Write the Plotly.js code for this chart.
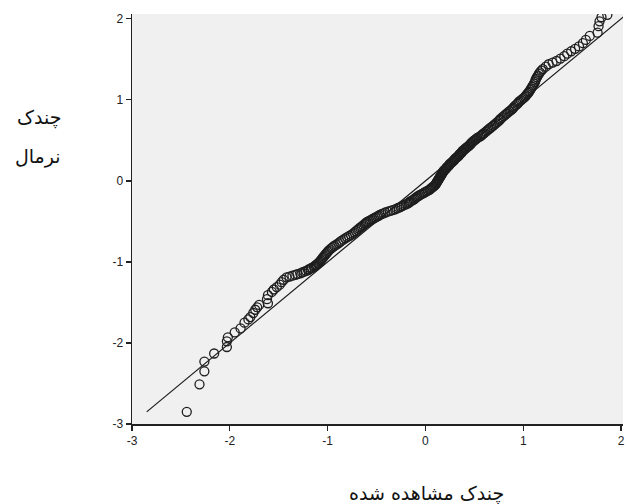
<!DOCTYPE html>
<html>
<head>
<meta charset="utf-8">
<script src="https://cdn.plot.ly/plotly-3.0.1.min.js"></script>
<style>html,body{margin:0;padding:0;background:#fff;}#chart{width:627px;height:504px;}</style>
</head>
<body>
<div id="chart"></div>
<script>
const observed = [
 -2.44,-2.31,-2.26,-2.26,-2.16,-2.03,-2.03,-2.02,-1.95,-1.89,-1.85,-1.81,-1.79,-1.76,-1.74,-1.72,-1.70,-1.61,-1.62,-1.61,
 -1.57,-1.55,-1.52,-1.49,-1.47,-1.45,-1.42,-1.36,-1.31,-1.26,-1.22,-1.19,-1.16,-1.13,-1.11,-1.09,-1.07,-1.05,-1.03,-1.01,
 -0.99,-0.96,-0.93,-0.89,-0.86,-0.82,-0.78,-0.74,-0.71,-0.68,-0.65,-0.62,-0.60,-0.57,-0.54,-0.51,-0.48,-0.45,-0.41,-0.36,
 -0.31,-0.27,-0.24,-0.20,-0.17,-0.15,-0.12,-0.10,-0.08,-0.05,-0.02,0.01,0.04,0.06,0.08,0.10,0.11,0.12,0.13,0.14,
 0.15,0.16,0.17,0.18,0.19,0.21,0.22,0.24,0.25,0.27,0.29,0.30,0.32,0.34,0.35,0.37,0.38,0.40,0.42,0.44,
 0.46,0.47,0.49,0.51,0.53,0.56,0.58,0.60,0.63,0.66,0.69,0.72,0.75,0.77,0.80,0.83,0.86,0.89,0.91,0.94,
 0.96,0.99,1.02,1.04,1.06,1.08,1.10,1.12,1.13,1.15,1.17,1.20,1.23,1.26,1.30,1.34,1.38,1.42,1.45,1.49,
 1.53,1.57,1.61,1.64,1.68,1.76,1.77,1.78,1.80,1.86
];
const expectedNormal = [
 -2.85,-2.51,-2.35,-2.23,-2.13,-2.05,-1.98,-1.93,-1.87,-1.82,-1.75,-1.71,-1.68,-1.63,-1.59,-1.56,-1.53,-1.51,-1.46,-1.41,
 -1.37,-1.34,-1.31,-1.28,-1.25,-1.22,-1.19,-1.17,-1.15,-1.13,-1.11,-1.09,-1.07,-1.05,-1.03,-1.01,-0.98,-0.95,-0.92,-0.89,
 -0.86,-0.83,-0.80,-0.77,-0.74,-0.71,-0.68,-0.65,-0.62,-0.59,-0.56,-0.53,-0.51,-0.49,-0.47,-0.45,-0.43,-0.41,-0.39,-0.37,
 -0.35,-0.33,-0.31,-0.29,-0.27,-0.25,-0.23,-0.21,-0.19,-0.17,-0.15,-0.13,-0.11,-0.09,-0.07,-0.05,-0.03,-0.01,0.01,0.03,
 0.05,0.07,0.09,0.11,0.13,0.15,0.17,0.19,0.21,0.23,0.25,0.27,0.29,0.31,0.33,0.35,0.37,0.39,0.41,0.43,
 0.45,0.47,0.49,0.51,0.53,0.55,0.57,0.59,0.62,0.65,0.68,0.71,0.74,0.77,0.80,0.83,0.86,0.89,0.92,0.95,
 0.98,1.01,1.04,1.07,1.10,1.14,1.18,1.22,1.26,1.30,1.34,1.38,1.41,1.44,1.46,1.48,1.51,1.54,1.57,1.60,
 1.63,1.66,1.70,1.74,1.79,1.83,1.91,1.97,2.02,2.05
];
// Additional observations in the dense central band
const observedCentral = [
 -1.39,-1.33,-1.28,-1.24,-1.20,-1.17,-1.14,-1.12,-1.10,-1.08,-1.06,-1.04,-1.02,-1.00,-0.975,-0.945,-0.91,-0.875,-0.84,-0.80,
 -0.76,-0.725,-0.695,-0.665,-0.635,-0.61,-0.585,-0.555,-0.525,-0.495,-0.465,-0.43,-0.385,-0.335,-0.29,-0.255,-0.22,-0.185,-0.16,-0.135,
 -0.11,-0.09,-0.065,-0.035,-0.005,0.025,0.05,0.07,0.09,0.105,0.115,0.125,0.135,0.145,0.155,0.165,0.175,0.185,0.20,0.215,
 0.23,0.245,0.26,0.28,0.295,0.31,0.33,0.345,0.36,0.375,0.39,0.41,0.43,0.45,0.465,0.48,0.50,0.52,0.545,0.57,
 0.59,0.615,0.645,0.675,0.705,0.735,0.76,0.785,0.815,0.845,0.875,0.90,0.925,0.95,0.975,1.005,1.03,1.05,1.07,1.09,
 1.11,1.125,1.14,1.16,1.185
];
const expectedCentral = [
 -1.18,-1.16,-1.14,-1.12,-1.10,-1.08,-1.06,-1.04,-1.02,-0.995,-0.965,-0.935,-0.905,-0.875,-0.845,-0.815,-0.785,-0.755,-0.725,-0.695,
 -0.665,-0.635,-0.605,-0.575,-0.545,-0.52,-0.50,-0.48,-0.46,-0.44,-0.42,-0.40,-0.38,-0.36,-0.34,-0.32,-0.30,-0.28,-0.26,-0.24,
 -0.22,-0.20,-0.18,-0.16,-0.14,-0.12,-0.10,-0.08,-0.06,-0.04,-0.02,0.00,0.02,0.04,0.06,0.08,0.10,0.12,0.14,0.16,
 0.18,0.20,0.22,0.24,0.26,0.28,0.30,0.32,0.34,0.36,0.38,0.40,0.42,0.44,0.46,0.48,0.50,0.52,0.54,0.56,
 0.58,0.605,0.635,0.665,0.695,0.725,0.755,0.785,0.815,0.845,0.875,0.905,0.935,0.965,0.995,1.025,1.055,1.085,1.12,1.16,
 1.20,1.24,1.28,1.32,1.36
];
// Reference line (y = x)
const refLineX = [-2.85, 2.1];
const refLineY = [-2.85, 2.1];
const tickVals = [-3, -2, -1, 0, 1, 2];
const tickText = ['-3', '-2', '-1', '0', '1', '2'];
const xTitle = 'چندک مشاهده شده';
const yTitleLines = ['چندک', 'نرمال'];

const markerStyle = {symbol: 'circle-open', size: 9, color: '#1e1e1e', line: {width: 1.3, color: '#1e1e1e'}};

const traces = [
  {x: refLineX, y: refLineY, type: 'scatter', mode: 'lines',
   line: {color: '#1a1a1a', width: 1.2}, hoverinfo: 'skip', showlegend: false},
  {x: observed, y: expectedNormal, type: 'scatter', mode: 'markers',
   marker: markerStyle, cliponaxis: true, showlegend: false},
  {x: observedCentral, y: expectedCentral, type: 'scatter', mode: 'markers',
   marker: markerStyle, cliponaxis: true, showlegend: false}
];

const axisCommon = {
  showgrid: false, zeroline: false, showline: true, linecolor: '#222', linewidth: 1.5,
  ticks: 'outside', ticklen: 5, tickcolor: '#222', tickwidth: 1.2,
  tickvals: tickVals, ticktext: tickText,
  tickfont: {family: 'Liberation Sans, Arial, sans-serif', size: 12, color: '#222'}
};

const titleFont = {family: 'DejaVu Sans, sans-serif', size: 19, color: '#111'};

const layout = {
  width: 627, height: 504,
  margin: {l: 132, r: 4, t: 14, b: 80},
  paper_bgcolor: '#ffffff', plot_bgcolor: '#f0f0f0',
  showlegend: false,
  xaxis: Object.assign({}, axisCommon, {range: [-3, 2.02]}),
  yaxis: Object.assign({}, axisCommon, {range: [-3, 2.06]}),
  annotations: [
    {text: xTitle, xref: 'x', yref: 'paper', x: 0.01, y: -0.17, xanchor: 'center', yanchor: 'middle',
     showarrow: false, font: titleFont},
    {text: yTitleLines[0], xref: 'paper', yref: 'paper', x: -0.1405, y: 0.748, xanchor: 'right', yanchor: 'middle',
     showarrow: false, font: titleFont},
    {text: yTitleLines[1], xref: 'paper', yref: 'paper', x: -0.1405, y: 0.652, xanchor: 'right', yanchor: 'middle',
     showarrow: false, font: titleFont}
  ]
};

Plotly.newPlot('chart', traces, layout, {staticPlot: true, displayModeBar: false});
</script>
</body>
</html>
